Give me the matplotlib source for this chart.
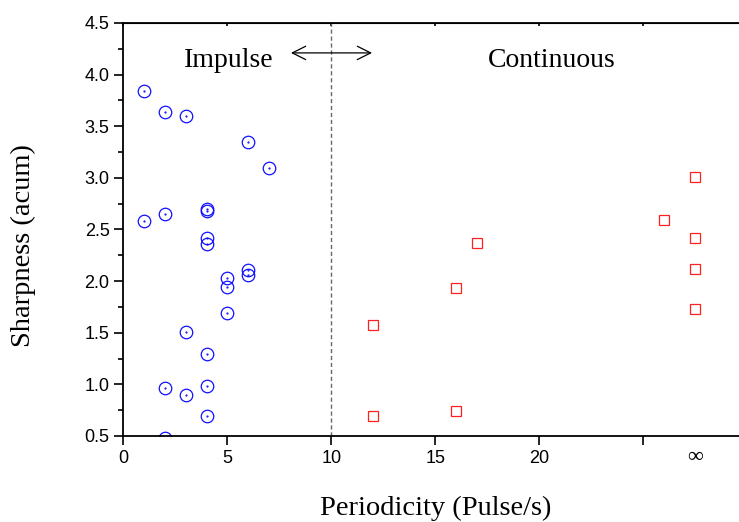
import matplotlib.pyplot as plt

# impulse sounds (blue circles)
imp_x = [1, 2, 3, 6, 7, 1, 2, 4, 4, 4, 4, 5, 5, 6, 6, 5, 3, 4, 2, 3, 4, 4, 2]
imp_y = [3.84, 3.64, 3.60, 3.35, 3.10, 2.58, 2.65, 2.70, 2.68, 2.42, 2.36,
         2.03, 1.94, 2.11, 2.06, 1.69, 1.51, 1.29, 0.96, 0.90, 0.98, 0.69, 0.48]

# continuous sounds (red squares), 27.5 stands for infinity
con_x = [27.5, 26, 27.5, 17, 27.5, 27.5, 16, 12, 12, 16]
con_y = [3.01, 2.59, 2.42, 2.37, 2.12, 1.73, 1.93, 1.57, 0.69, 0.745]

xticks = [0, 5, 10, 15, 20, 25]
xticklabels = ['0', '5', '10', '15', '20', '']

fig = plt.figure(figsize=(7.39, 5.22), dpi=100)
ax = fig.add_axes([0.1671, 0.1648, 0.8444, 0.7912])

ax.plot(imp_x, imp_y, 'o', mfc='none', mec='#1010ff', ms=9, mew=0.9)
ax.plot(imp_x, imp_y, '.', color='#1010ff', ms=1.2)
ax.plot(con_x, con_y, 's', mfc='none', mec='#ff2020', ms=7, mew=0.9)

ax.axvline(10, color='#666666', ls=(0, (3, 2)), lw=1)
ax.annotate('', xy=(8.05, 4.21), xytext=(11.95, 4.21),
            arrowprops=dict(arrowstyle='<->', color='black', lw=0.9, mutation_scale=24,
                            shrinkA=0, shrinkB=0))
ax.text(5.07, 4.135, 'Impulse', ha='center', va='center', fontsize=20, family='Liberation Serif')
ax.text(20.6, 4.135, 'Continuous', ha='center', va='center', fontsize=20, family='Liberation Serif')

ax.set_xlim(0, 30)
ax.set_ylim(0.5, 4.5)
ax.set_xticks(xticks, xticklabels)
ax.set_xticks([27.5], ['\u221e'], minor=True)
ax.set_yticks([0.5, 1.0, 1.5, 2.0, 2.5, 3.0, 3.5, 4.0, 4.5])
ax.set_yticks([0.75, 1.25, 1.75, 2.25, 2.75, 3.25, 3.75, 4.25], minor=True)
ax.yaxis.set_major_formatter(plt.FormatStrFormatter('%.1f'))

ax.tick_params(axis='both', which='major', direction='out', length=6.5, width=1.2,
               labelsize=13)
ax.tick_params(axis='y', which='minor', direction='out', length=3.5, width=1.2)
ax.tick_params(axis='x', which='minor', length=0, pad=9, labelsize=16)
for lab in ax.get_xticklabels() + ax.get_yticklabels():
    lab.set_family('Liberation Sans')
for lab in ax.get_xticklabels(minor=True):
    lab.set_family('Liberation Serif')

ax.spines['right'].set_visible(False)
for s in ['left', 'bottom', 'top']:
    ax.spines[s].set_linewidth(1.3)

top = ax.secondary_xaxis('top')
top.set_xticks(xticks)
top.tick_params(direction='in', length=2.5, width=1.2, labeltop=False)

ax.set_xlabel('Periodicity (Pulse/s)', fontsize=20.5, family='Liberation Serif')
ax.xaxis.set_label_coords(0.50, -0.145)
ax.set_ylabel('Sharpness (acum)', fontsize=20.5, family='Liberation Serif')
ax.yaxis.set_label_coords(-0.14, 0.46)

fig.savefig('out.png', dpi=100)
